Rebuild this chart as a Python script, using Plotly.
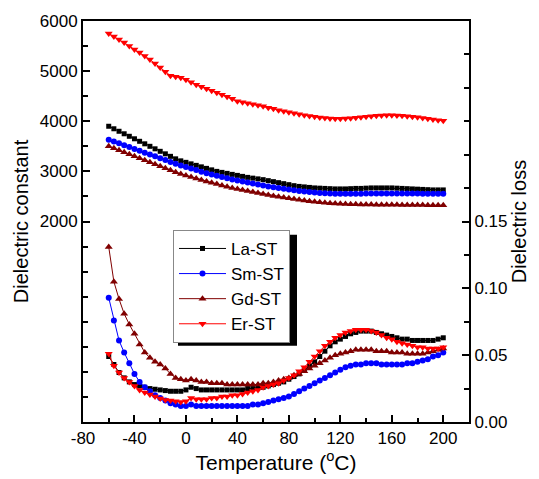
import numpy as np
import plotly.graph_objects as go

# Measurement temperatures (°C)
temps = np.arange(-60, 201, 4)

# Dielectric constant
la_eps = [3900, 3850, 3800, 3750, 3700, 3650, 3600, 3550, 3500, 3450, 3400,
          3350, 3300, 3250, 3210, 3180, 3150, 3120, 3090, 3060, 3030, 3000,
          2980, 2960, 2940, 2920, 2900, 2880, 2865, 2850, 2835, 2815, 2795,
          2775, 2755, 2735, 2715, 2700, 2690, 2680, 2670, 2665, 2660, 2655,
          2650, 2650, 2650, 2655, 2660, 2660, 2665, 2670, 2670, 2670, 2670,
          2670, 2665, 2660, 2655, 2650, 2645, 2640, 2635, 2630, 2630, 2630]
sm_eps = [3630, 3595, 3560, 3520, 3485, 3445, 3410, 3370, 3335, 3300, 3260,
          3225, 3185, 3150, 3115, 3085, 3055, 3025, 2995, 2965, 2940, 2915,
          2890, 2865, 2840, 2820, 2800, 2780, 2760, 2740, 2720, 2700, 2685,
          2670, 2655, 2640, 2625, 2610, 2600, 2590, 2580, 2570, 2565, 2560,
          2555, 2555, 2555, 2555, 2555, 2555, 2560, 2560, 2560, 2560, 2560,
          2560, 2560, 2560, 2560, 2560, 2560, 2555, 2555, 2555, 2555, 2555]
gd_eps = [3500, 3460, 3420, 3380, 3340, 3300, 3260, 3220, 3180, 3140, 3100,
          3060, 3020, 2985, 2950, 2920, 2890, 2860, 2830, 2800, 2775, 2750,
          2720, 2695, 2670, 2650, 2630, 2610, 2590, 2570, 2550, 2530, 2510,
          2495, 2480, 2465, 2450, 2435, 2420, 2405, 2395, 2385, 2375, 2365,
          2360, 2355, 2350, 2345, 2345, 2340, 2340, 2340, 2335, 2335, 2335,
          2335, 2335, 2330, 2330, 2330, 2330, 2330, 2325, 2325, 2325, 2325]
er_eps = [5750, 5690, 5630, 5570, 5500, 5430, 5370, 5300, 5230, 5150, 5070,
          4990, 4910, 4890, 4870, 4830, 4780, 4730, 4690, 4650, 4610, 4570,
          4530, 4490, 4450, 4400, 4380, 4360, 4340, 4320, 4300, 4270, 4250,
          4220, 4200, 4180, 4160, 4140, 4120, 4105, 4090, 4075, 4065, 4055,
          4050, 4050, 4055, 4060, 4070, 4080, 4090, 4100, 4110, 4115, 4120,
          4120, 4115, 4110, 4100, 4090, 4080, 4065, 4050, 4035, 4020, 4010]

# Dielectric loss
la_loss = [0.049, 0.043, 0.037, 0.033, 0.030, 0.028, 0.027, 0.026, 0.025, 0.0245, 0.024,
           0.0235, 0.023, 0.023, 0.023, 0.024, 0.026, 0.025, 0.024, 0.024, 0.024, 0.024,
           0.024, 0.024, 0.024, 0.024, 0.024, 0.025, 0.025, 0.026, 0.026, 0.027, 0.028,
           0.029, 0.030, 0.032, 0.034, 0.036, 0.039, 0.042, 0.045, 0.049, 0.053, 0.057,
           0.060, 0.062, 0.064, 0.066, 0.067, 0.068, 0.068, 0.068, 0.067, 0.066, 0.065,
           0.064, 0.063, 0.062, 0.062, 0.061, 0.061, 0.061, 0.061, 0.061, 0.062, 0.063]
sm_loss = [0.093, 0.076, 0.061, 0.052, 0.044, 0.036, 0.030, 0.026, 0.023, 0.020, 0.018,
           0.016, 0.014, 0.013, 0.012, 0.012, 0.013, 0.012, 0.012, 0.012, 0.012, 0.012,
           0.012, 0.012, 0.012, 0.012, 0.012, 0.012, 0.013, 0.013, 0.014, 0.015, 0.016,
           0.017, 0.018, 0.019, 0.021, 0.023, 0.025, 0.027, 0.029, 0.031, 0.033, 0.035,
           0.037, 0.039, 0.041, 0.042, 0.043, 0.043, 0.044, 0.044, 0.044, 0.043, 0.043,
           0.043, 0.043, 0.043, 0.044, 0.044, 0.045, 0.046, 0.047, 0.049, 0.050, 0.052]
gd_loss = [0.131, 0.105, 0.092, 0.081, 0.073, 0.066, 0.058, 0.052, 0.048, 0.045, 0.043,
           0.040, 0.036, 0.033, 0.032, 0.031, 0.032, 0.031, 0.030, 0.030, 0.029, 0.029,
           0.029, 0.028, 0.028, 0.028, 0.028, 0.028, 0.028, 0.028, 0.029, 0.029, 0.030,
           0.031, 0.032, 0.033, 0.035, 0.036, 0.038, 0.040, 0.042, 0.044, 0.046, 0.048,
           0.050, 0.051, 0.052, 0.053, 0.054, 0.054, 0.054, 0.054, 0.053, 0.053, 0.053,
           0.052, 0.052, 0.052, 0.051, 0.051, 0.051, 0.051, 0.052, 0.053, 0.054, 0.055]
er_loss = [0.051, 0.042, 0.037, 0.033, 0.030, 0.027, 0.024, 0.022, 0.0205, 0.019, 0.0176,
           0.0165, 0.016, 0.0155, 0.015, 0.0155, 0.018, 0.017, 0.017, 0.017, 0.018, 0.018,
           0.019, 0.019, 0.020, 0.020, 0.021, 0.022, 0.023, 0.024, 0.026, 0.027, 0.028,
           0.029, 0.031, 0.033, 0.035, 0.038, 0.041, 0.045, 0.049, 0.053, 0.057, 0.060,
           0.063, 0.065, 0.067, 0.068, 0.069, 0.069, 0.069, 0.068, 0.067, 0.065, 0.063,
           0.062, 0.060, 0.059, 0.058, 0.057, 0.056, 0.056, 0.055, 0.055, 0.055, 0.056]

series = [
    ("La-ST", la_eps, la_loss, "#000000", "square", 5),
    ("Sm-ST", sm_eps, sm_loss, "#0000FF", "circle", 6),
    ("Gd-ST", gd_eps, gd_loss, "#800000", "triangle-up", 7),
    ("Er-ST", er_eps, er_loss, "#FF0000", "triangle-down", 7),
]

FONT = "Liberation Sans, Arial, sans-serif"

fig = go.Figure()
for name, eps, loss, color, symbol, size in series:
    fig.add_trace(go.Scatter(
        x=temps, y=eps, name=name, mode="lines+markers",
        line=dict(color=color, width=1),
        marker=dict(color=color, symbol=symbol, size=size),
        yaxis="y"))
for name, eps, loss, color, symbol, size in series:
    fig.add_trace(go.Scatter(
        x=temps, y=loss, name=name, mode="lines+markers",
        line=dict(color=color, width=1),
        marker=dict(color=color, symbol=symbol, size=size),
        showlegend=False, yaxis="y2"))

# Legend box and its drop shadow; pixel positions inside the 386 x 405 plot area
PX0, PY0, PW, PH = 83, 21, 386, 405
X_RANGE = (-80, 220)
Y_RANGE = (-2000, 6000)


def px(x):
    return (x - PX0) / PW


def py(y):
    return (PY0 + PH - y) / PH


def dxv(x):
    return X_RANGE[0] + px(x) * (X_RANGE[1] - X_RANGE[0])


def dyv(y):
    return Y_RANGE[0] + py(y) * (Y_RANGE[1] - Y_RANGE[0])


box_l, box_t, box_r, box_b = 173, 232, 292, 344
sh = 5
fig.add_shape(type="rect", xref="x", yref="y",
              x0=dxv(box_l + sh), x1=dxv(box_r + sh),
              y0=dyv(box_b + sh), y1=dyv(box_t + sh),
              fillcolor="black", line=dict(width=0), layer="above")

fig.update_layout(
    width=539, height=479,
    margin=dict(l=83, r=70, t=21, b=53),
    paper_bgcolor="white", plot_bgcolor="white",
    font=dict(family=FONT, color="black", size=17),
    showlegend=True,
    legend=dict(x=px(box_l), y=py(box_t), xanchor="left", yanchor="top",
                bgcolor="white", bordercolor="#888888", borderwidth=1,
                font=dict(size=17, family=FONT), tracegroupgap=0,
                itemwidth=47),
    xaxis=dict(
        range=list(X_RANGE), showgrid=False, zeroline=False,
        showline=True, linecolor="black", linewidth=2, mirror=True,
        ticks="inside", ticklen=7, tickwidth=1.5, tickcolor="black",
        tickmode="array", tickvals=[-80, -40, 0, 40, 80, 120, 160, 200],
        ticktext=["-80", "-40", "0", "40", "80", "120", "160", "200"],
        minor=dict(tickmode="array", tickvals=[-60, -20, 20, 60, 100, 140, 180],
                   ticks="inside", ticklen=4, tickwidth=1.5, tickcolor="black"),
        tickfont=dict(size=17),
        title=dict(text="Temperature (<sup>o</sup>C)", font=dict(size=21), standoff=4),
    ),
    yaxis=dict(
        range=list(Y_RANGE), showgrid=False, zeroline=False,
        showline=True, linecolor="black", linewidth=2,
        ticks="inside", ticklen=7, tickwidth=1.5, tickcolor="black",
        tickmode="array", tickvals=[2000, 3000, 4000, 5000, 6000],
        ticktext=["2000", "3000", "4000", "5000", "6000"],
        minor=dict(tickmode="array",
                   tickvals=[-1500, -1000, -500, 0, 500, 1000, 1500,
                             2500, 3500, 4500, 5500],
                   ticks="inside", ticklen=5, tickwidth=1.5, tickcolor="black"),
        tickfont=dict(size=17),
        title=dict(text="Dielectric constant", font=dict(size=20), standoff=6),
    ),
    yaxis2=dict(
        range=[0, 0.3], overlaying="y", side="right",
        showgrid=False, zeroline=False,
        showline=True, linecolor="black", linewidth=2,
        ticks="inside", ticklen=7, tickwidth=1.5, tickcolor="black",
        tickmode="array", tickvals=[0, 0.05, 0.10, 0.15],
        ticktext=["0.00", "0.05", "0.10", "0.15"],
        minor=dict(tickmode="array",
                   tickvals=[0.025, 0.075, 0.125, 0.175, 0.2, 0.225, 0.25, 0.275],
                   ticks="inside", ticklen=5, tickwidth=1.5, tickcolor="black"),
        tickfont=dict(size=17),
        title=dict(text="Dielectric loss", font=dict(size=20), standoff=6),
    ),
)

fig.write_html("out.html")
